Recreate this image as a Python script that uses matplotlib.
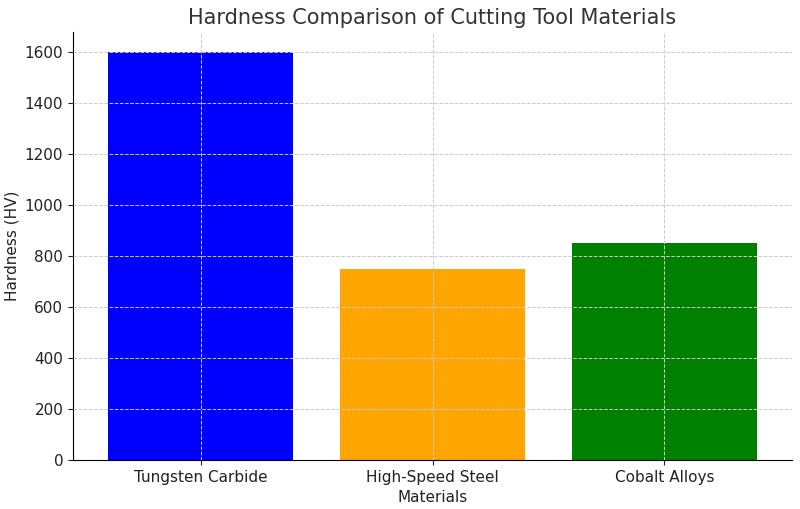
import matplotlib
matplotlib.use("Agg")
import matplotlib.pyplot as plt

materials = ["Tungsten Carbide", "High-Speed Steel", "Cobalt Alloys"]
hardness = [1600, 750, 850]
colors = ["blue", "orange", "green"]

fig = plt.figure(figsize=(8, 5.09), dpi=100)
ax = fig.add_axes([73 / 800, 49 / 509, 719 / 800, 428 / 509])
ax.bar(materials, hardness, color=colors, width=0.8)
ax.set_ylim(0, 1680)
ax.set_xlim(-0.55, 2.55)
ax.grid(True, linestyle="--", color="#cccccc", linewidth=0.7)
ax.set_axisbelow(False)
ax.spines["top"].set_visible(False)
ax.spines["right"].set_visible(False)
ax.tick_params(labelsize=11, colors="#222222")
ax.set_title("Hardness Comparison of Cutting Tool Materials", fontsize=15, color="#333333")
ax.set_xlabel("Materials", fontsize=11, color="#222222")
ax.set_ylabel("Hardness (HV)", fontsize=11, color="#222222")
fig.savefig("out.png", dpi=100)
